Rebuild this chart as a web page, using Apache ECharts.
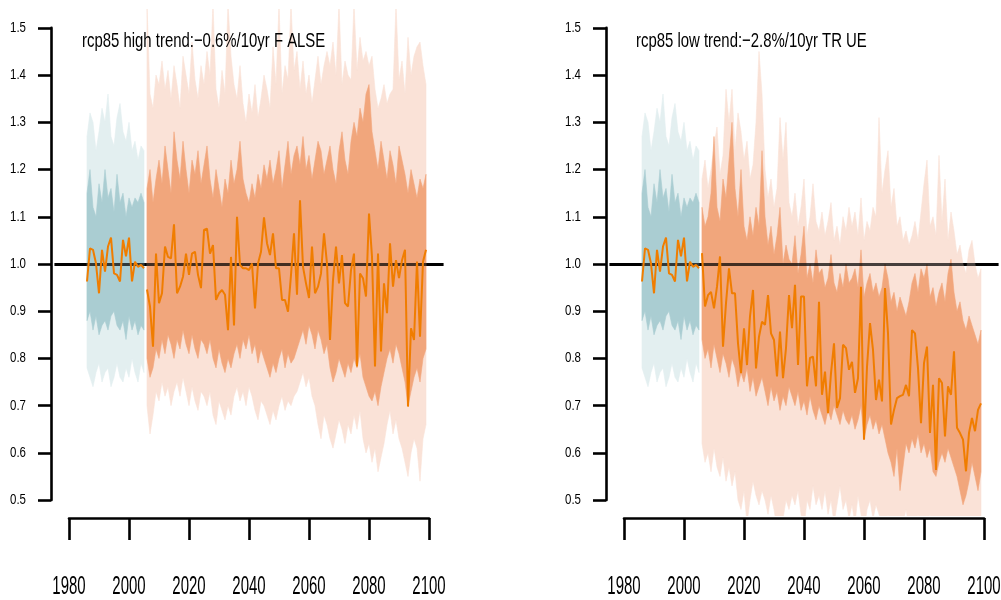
<!DOCTYPE html>
<html><head><meta charset="utf-8">
<script src="https://cdn.jsdelivr.net/npm/echarts@6/dist/echarts.min.js"></script>
<style>html,body{margin:0;padding:0;background:#fff}#c{width:1001px;height:600px}</style>
</head><body><div id="c"></div>
<script>
// ---------------- DATA ----------------
const histStart = 1986;   // historical period 1986-2005
const futStart = 2006;    // projection period 2006-2099
const refValue = 1.0;

const histMedian = [0.963,1.033,1.030,1.001,0.938,1.030,0.984,1.037,1.056,0.980,0.977,0.963,1.051,1.016,1.056,0.963,1.005,0.994,0.998,0.991];
const histInnerHigh = [1.15,1.20,1.12,1.10,1.17,1.13,1.20,1.14,1.16,1.11,1.19,1.13,1.15,1.10,1.14,1.12,1.14,1.13,1.15,1.13];
const histInnerLow  = [0.88,0.90,0.86,0.89,0.85,0.87,0.88,0.86,0.89,0.90,0.87,0.86,0.88,0.84,0.89,0.86,0.88,0.85,0.87,0.86];
const histOuterHigh = [1.27,1.32,1.30,1.24,1.28,1.33,1.30,1.36,1.27,1.25,1.31,1.34,1.28,1.26,1.30,1.24,1.26,1.22,1.25,1.24];
const histOuterLow  = [0.78,0.76,0.74,0.77,0.79,0.75,0.77,0.78,0.74,0.76,0.79,0.76,0.75,0.78,0.76,0.80,0.77,0.75,0.79,0.77];

// rcp85 high
const highMedian = [
 0.946,0.910,0.825,1.022,0.917,0.938,1.037,1.015,1.012,1.084,
 0.938,0.952,0.973,1.022,0.977,1.022,1.026,0.977,0.949,1.072,
 1.075,1.022,1.040,0.924,0.938,0.945,0.935,0.860,1.015,0.870,
 1.100,0.998,0.991,0.991,0.987,1.001,0.906,1.001,1.026,1.099,
 1.044,1.019,1.065,0.991,0.991,0.924,0.924,0.899,0.977,1.065,
 0.935,1.135,0.994,0.959,0.928,1.037,0.938,0.952,0.980,1.065,
 1.001,0.839,0.966,1.037,0.959,1.019,0.917,0.910,0.987,1.022,
 0.783,0.980,0.970,0.931,1.107,1.015,0.783,1.022,0.815,0.959,
 0.896,1.044,0.952,1.008,0.970,1.008,1.030,0.698,0.864,0.839,
 1.005,0.846,1.005,1.030];
const highInnerHigh = [
 1.16,1.20,1.13,1.18,1.22,1.17,1.25,1.20,1.15,1.28,
 1.22,1.18,1.26,1.20,1.15,1.22,1.19,1.24,1.17,1.21,
 1.25,1.18,1.14,1.20,1.16,1.12,1.18,1.15,1.22,1.17,
 1.20,1.26,1.18,1.15,1.13,1.17,1.14,1.19,1.16,1.21,
 1.18,1.22,1.17,1.20,1.24,1.16,1.21,1.26,1.19,1.23,
 1.25,1.21,1.27,1.20,1.23,1.18,1.22,1.26,1.24,1.19,
 1.22,1.25,1.20,1.17,1.24,1.28,1.22,1.19,1.26,1.30,
 1.27,1.33,1.30,1.36,1.38,1.28,1.24,1.20,1.26,1.22,
 1.18,1.24,1.21,1.17,1.25,1.22,1.19,1.15,1.20,1.17,
 1.14,1.18,1.16,1.19];
const highInnerLow = [
 0.80,0.76,0.78,0.82,0.80,0.84,0.81,0.85,0.83,0.80,
 0.84,0.82,0.86,0.83,0.81,0.85,0.82,0.80,0.84,0.83,
 0.81,0.84,0.80,0.78,0.82,0.79,0.77,0.80,0.78,0.81,
 0.83,0.80,0.84,0.82,0.85,0.81,0.83,0.79,0.82,0.80,
 0.78,0.76,0.79,0.77,0.80,0.82,0.78,0.81,0.79,0.80,
 0.82,0.84,0.86,0.83,0.87,0.85,0.82,0.86,0.84,0.81,
 0.83,0.78,0.75,0.77,0.80,0.78,0.76,0.79,0.77,0.80,
 0.78,0.81,0.76,0.74,0.72,0.71,0.73,0.70,0.74,0.77,
 0.80,0.82,0.79,0.83,0.81,0.78,0.75,0.70,0.73,0.76,
 0.78,0.75,0.80,0.82];
const highOuterHigh = [
 1.55,1.36,1.33,1.40,1.38,1.43,1.37,1.41,1.35,1.42,
 1.38,1.33,1.44,1.40,1.36,1.47,1.39,1.35,1.42,1.38,
 1.45,1.40,1.55,1.37,1.33,1.41,1.36,1.55,1.44,1.38,
 1.35,1.42,1.34,1.30,1.36,1.32,1.38,1.31,1.35,1.40,
 1.37,1.33,1.46,1.38,1.55,1.36,1.42,1.39,1.55,1.41,
 1.45,1.37,1.43,1.36,1.40,1.34,1.39,1.44,1.38,1.42,
 1.45,1.42,1.47,1.40,1.55,1.38,1.43,1.40,1.39,1.55,
 1.41,1.48,1.43,1.45,1.42,1.44,1.37,1.33,1.35,1.38,
 1.34,1.36,1.37,1.55,1.39,1.43,1.36,1.48,1.40,1.44,
 1.46,1.47,1.42,1.38];
const highOuterLow = [
 0.70,0.64,0.68,0.73,0.71,0.75,0.72,0.74,0.70,0.73,
 0.75,0.72,0.76,0.73,0.70,0.74,0.71,0.69,0.73,0.72,
 0.70,0.73,0.68,0.66,0.71,0.69,0.67,0.70,0.68,0.72,
 0.74,0.71,0.73,0.70,0.74,0.72,0.69,0.67,0.71,0.70,
 0.68,0.66,0.69,0.67,0.70,0.72,0.69,0.71,0.70,0.72,
 0.73,0.75,0.77,0.74,0.76,0.72,0.70,0.66,0.63,0.68,
 0.66,0.63,0.61,0.64,0.67,0.65,0.62,0.66,0.64,0.68,
 0.65,0.69,0.63,0.60,0.62,0.58,0.61,0.56,0.59,0.62,
 0.66,0.69,0.64,0.67,0.63,0.61,0.58,0.55,0.60,0.63,
 0.61,0.54,0.63,0.66];

// rcp85 low
const lowMedian = [
 1.023,0.910,0.934,0.941,0.906,0.952,1.016,0.825,0.917,0.991,
 0.938,0.938,0.832,0.769,0.864,0.786,0.889,0.945,0.779,0.846,
 0.878,0.871,0.934,0.853,0.839,0.762,0.857,0.758,0.822,0.934,
 0.864,0.956,0.786,0.931,0.931,0.741,0.801,0.804,0.741,0.920,
 0.723,0.772,0.684,0.769,0.832,0.695,0.716,0.829,0.822,0.776,
 0.793,0.727,0.758,0.952,0.628,0.782,0.875,0.818,0.712,0.755,
 0.709,0.949,0.853,0.660,0.691,0.716,0.720,0.723,0.744,0.720,
 0.860,0.853,0.779,0.663,0.790,0.825,0.642,0.744,0.564,0.758,
 0.748,0.635,0.741,0.723,0.815,0.653,0.642,0.628,0.561,0.642,
 0.674,0.646,0.691,0.705];
const lowInnerHigh = [
 1.12,1.08,1.10,1.15,1.27,1.12,1.09,1.18,1.14,1.22,
 1.30,1.16,1.10,1.20,1.08,1.05,1.10,1.06,1.12,1.08,
 1.24,1.10,1.04,1.08,1.02,1.06,1.12,1.00,1.04,1.01,
 1.00,1.06,0.98,1.02,1.08,0.97,1.00,0.96,1.03,0.98,
 0.99,0.95,0.97,1.02,0.96,0.94,0.98,0.95,1.00,0.96,
 0.97,0.99,0.95,1.03,0.93,0.96,0.98,0.94,0.96,0.93,
 0.95,1.00,0.97,0.92,0.94,0.90,0.93,0.91,0.89,0.92,
 0.96,0.98,0.94,0.99,0.97,1.00,0.93,0.95,0.91,0.94,
 0.96,0.92,0.98,1.01,0.94,0.90,0.92,0.88,0.86,0.89,
 0.87,0.85,0.83,0.86];
const lowInnerLow = [
 0.84,0.80,0.82,0.78,0.83,0.80,0.77,0.81,0.79,0.76,
 0.80,0.78,0.74,0.77,0.75,0.78,0.73,0.76,0.72,0.74,
 0.76,0.73,0.70,0.74,0.71,0.73,0.69,0.72,0.70,0.74,
 0.72,0.70,0.73,0.69,0.71,0.68,0.72,0.69,0.67,0.70,
 0.68,0.66,0.69,0.67,0.70,0.68,0.66,0.69,0.67,0.66,
 0.68,0.65,0.67,0.70,0.63,0.66,0.68,0.65,0.67,0.64,
 0.66,0.63,0.60,0.58,0.55,0.61,0.52,0.57,0.62,0.60,
 0.63,0.61,0.64,0.60,0.62,0.59,0.61,0.56,0.55,0.58,
 0.60,0.58,0.61,0.59,0.57,0.55,0.52,0.49,0.51,0.54,
 0.58,0.55,0.52,0.56];
const lowOuterHigh = [
 1.18,1.22,1.16,1.20,1.25,1.29,1.19,1.23,1.37,1.30,
 1.37,1.24,1.32,1.28,1.22,1.26,1.18,1.21,1.30,1.45,
 1.36,1.20,1.14,1.18,1.12,1.16,1.31,1.22,1.30,1.13,
 1.10,1.15,1.08,1.12,1.18,1.06,1.10,1.17,1.09,1.07,
 1.11,1.06,1.09,1.13,1.05,1.08,1.04,1.10,1.07,1.12,
 1.08,1.11,1.06,1.14,1.05,1.09,1.07,1.12,1.10,1.31,
 1.15,1.20,1.24,1.12,1.16,1.08,1.10,1.05,1.07,1.04,
 1.06,1.09,1.05,1.11,1.17,1.22,1.08,1.10,1.06,1.23,
 1.09,1.18,1.05,1.11,1.07,1.02,1.04,1.00,0.98,1.03,
 1.05,1.00,0.97,0.99];
const lowOuterLow = [
 0.62,0.58,0.60,0.56,0.61,0.57,0.55,0.59,0.54,0.57,
 0.53,0.56,0.50,0.48,0.52,0.45,0.50,0.54,0.51,0.49,
 0.52,0.50,0.47,0.51,0.48,0.44,0.43,0.46,0.50,0.48,
 0.51,0.49,0.52,0.47,0.44,0.50,0.48,0.53,0.49,0.51,
 0.48,0.52,0.47,0.50,0.45,0.49,0.53,0.48,0.50,0.46,
 0.49,0.45,0.51,0.47,0.43,0.48,0.50,0.46,0.49,0.47,
 0.45,0.43,0.47,0.44,0.42,0.46,0.43,0.45,0.48,0.44,
 0.46,0.43,0.47,0.44,0.42,0.45,0.47,0.43,0.46,0.44,
 0.42,0.45,0.43,0.46,0.44,0.42,0.45,0.41,0.44,0.43,
 0.45,0.42,0.44,0.43];

const yTicks = [0.5,0.6,0.7,0.8,0.9,1.0,1.1,1.2,1.3,1.4,1.5];
const yTickLabels = ['0.5','0.6','0.7','0.8','0.9','1.0','1.1','1.2','1.3','1.4','1.5'];
const xTicks = [1980,2000,2020,2040,2060,2080,2100];
const xTickLabels = ['1980','2000','2020','2040','2060','2080','2100'];
const titles = ['rcp85 high trend:\u22120.6%/10yr F ALSE', 'rcp85 low trend:\u22122.8%/10yr TR UE'];

// ---------------- STYLE / LAYOUT ----------------
const COL = {blueOuter:'#e3eff0', blueInner:'#aacdd2', orOuter:'#fae2d7', orInner:'#f1a67c', median:'#f07d00'};
const panelsLayout = [
  {dataX:54.6, yAxisX:51, x0:69, titleX:82},
  {dataX:609.6, yAxisX:606, x0:624, titleX:636}
];
const DATA_TOP = 9, DATA_H = 507, DATA_W = 388.8;
const YA_TOP = 27.9, YA_H = 472.2;
const XA_BOTTOM = 518, XA_W = 360;

const panelsData = [
  {median: highMedian, iu: highInnerHigh, il: highInnerLow, ou: highOuterHigh, ol: highOuterLow},
  {median: lowMedian, iu: lowInnerHigh, il: lowInnerLow, ou: lowOuterHigh, ol: lowOuterLow}
];

function pts(start, arr){ return arr.map((v,i)=>[start+i, v]); }

const grid = [], xAxis = [], yAxis = [], series = [];
panelsLayout.forEach((p, k) => {
  const g0 = grid.length;
  grid.push({left:p.dataX, top:DATA_TOP, width:DATA_W, height:DATA_H});
  grid.push({left:p.yAxisX, top:YA_TOP, width:300, height:YA_H});
  grid.push({left:p.x0, top:DATA_TOP, width:XA_W, height:XA_BOTTOM-DATA_TOP});
  const axLine = {show:true, lineStyle:{color:'#000', width:2.6}};
  // data axes: range 0.5-1.5 and 1980-2100 padded by 4% as in the original
  xAxis.push({gridIndex:g0, type:'value', min:1975.2, max:2104.8, show:false});
  yAxis.push({gridIndex:g0, type:'value', min:0.5-0.04*(DATA_H/472.2)*0+(-0.04), max:1.54, show:false});
  xAxis.push({gridIndex:g0+1, type:'value', show:false, min:0, max:1});
  yAxis.push({gridIndex:g0+1, type:'value', min:0.5, max:1.5, interval:0.1, z:10, axisLine:axLine,
    axisTick:{show:true, length:13, lineStyle:{color:'#000', width:2.6}}, axisLabel:{show:false}, splitLine:{show:false}});
  xAxis.push({gridIndex:g0+2, type:'value', min:1980, max:2100, interval:20, position:'bottom', z:10, axisLine:axLine,
    axisTick:{show:true, length:22, lineStyle:{color:'#000', width:2.6}}, axisLabel:{show:false}, splitLine:{show:false}});
  yAxis.push({gridIndex:g0+2, type:'value', show:false});

  const d = panelsData[k];
  const base = {xAxisIndex:g0, yAxisIndex:g0, silent:true, animation:false};
  series.push(Object.assign({type:'line', symbol:'none'}, base, {data:[], z:0,
    markLine:{silent:true, symbol:'none', z:0, label:{show:false}, lineStyle:{color:'#000', width:3, type:'solid', opacity:1}, data:[{yAxis:refValue}]}}));
  function band(lo, hi, start, color, z){
    series.push(Object.assign({type:'custom'}, base, {z, data:[[start, refValue]],
      renderItem: function(params, api){
        const top = hi.map((v,i)=>api.coord([start+i, v]));
        const bot = lo.map((v,i)=>api.coord([start+i, v])).reverse();
        const cs = params.coordSys;
        return {type:'polygon', shape:{points: top.concat(bot)}, style:{fill: color, stroke: color, lineWidth: 0.6},
          clipPath:{type:'rect', shape:{x:cs.x, y:cs.y, width:cs.width, height:cs.height}}};
      }}));
  }
  band(histOuterLow, histOuterHigh, histStart, COL.blueOuter, 1);
  band(histInnerLow, histInnerHigh, histStart, COL.blueInner, 2);
  band(d.ol, d.ou, futStart, COL.orOuter, 1);
  band(d.il, d.iu, futStart, COL.orInner, 2);
  series.push(Object.assign({type:'line', symbol:'none'}, base, {data:[], z:3,
    markLine:{silent:true, symbol:'none', z:3, label:{show:false}, lineStyle:{color:'#000', width:3, type:'solid', opacity:0.72}, data:[{yAxis:refValue}]}}));
  series.push(Object.assign({type:'line', symbol:'none'}, base, {z:4, data:pts(histStart, histMedian), lineStyle:{color:COL.median, width:2}}));
  series.push(Object.assign({type:'line', symbol:'none'}, base, {z:4, data:pts(futStart, d.median), lineStyle:{color:COL.median, width:2}}));
});

// fix data-grid y range so that 0.5 and 1.5 land exactly on the display axis
const pxPerUnit = YA_H / 1.0;
yAxis.forEach((a, i) => {
  if (i % 3 === 0) {
    a.max = 1.5 + (YA_TOP - DATA_TOP) / pxPerUnit;
    a.min = 0.5 - (DATA_TOP + DATA_H - (YA_TOP + YA_H)) / pxPerUnit;
  }
});

const chart = echarts.init(document.getElementById('c'), null, {renderer:'canvas'});
chart.setOption({animation:false, backgroundColor:'#fff', grid, xAxis, yAxis, series});

const graphic = [];
panelsLayout.forEach((p, k) => {
  const g0 = k*3;
  yTicks.forEach((t, i) => {
    const py = chart.convertToPixel({yAxisIndex:g0+1}, t);
    graphic.push({type:'text', x:p.yAxisX-25, y:py, scaleX:0.82, silent:true,
      style:{text:yTickLabels[i], font:'14px "Liberation Sans", Arial, sans-serif', fill:'#000', align:'right', verticalAlign:'middle'}});
  });
  xTicks.forEach((t, i) => {
    const px = chart.convertToPixel({xAxisIndex:g0+2}, t);
    graphic.push({type:'text', x:px, y:587, scaleX:0.6, silent:true,
      style:{text:xTickLabels[i], font:'25px "Liberation Sans", Arial, sans-serif', fill:'#000', align:'center', verticalAlign:'middle'}});
  });
  graphic.push({type:'text', x:p.titleX, y:41, scaleX:0.71, silent:true, z:10,
    style:{text:titles[k], font:'21px "Liberation Sans", Arial, sans-serif', fill:'#000', align:'left', verticalAlign:'middle'}});
});
chart.setOption({graphic});
</script>
</body></html>
